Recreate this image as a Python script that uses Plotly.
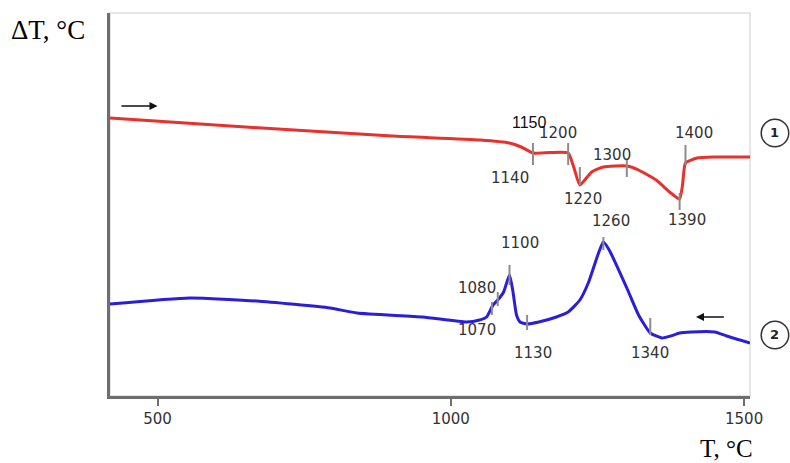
import numpy as np
import plotly.graph_objects as go

# ---- DTA curves: temperature (°C) vs ΔT (arbitrary units) ----
# Curve 1: heating
heat_T = [419, 650, 900, 1050, 1100, 1120, 1140, 1170, 1200, 1210, 1220, 1240,
          1260, 1300, 1320, 1350, 1375, 1390, 1395, 1400, 1420, 1450, 1510]
heat_dT = [27.8, 26.9, 26.0, 25.6, 25.3, 24.9, 24.3, 24.35, 24.3, 22.8, 21.1, 22.4,
           22.9, 23.0, 22.6, 21.6, 20.3, 19.7, 21.1, 23.3, 23.8, 23.9, 23.9]

# Curve 2: cooling
cool_T = [419, 555, 669, 794, 840, 952, 1027, 1049, 1061, 1070, 1075, 1080, 1090,
          1100, 1106, 1112, 1118, 1130, 1150, 1180, 1200, 1220, 1235, 1250, 1260,
          1270, 1300, 1320, 1340, 1360, 1375, 1390, 1410, 1450, 1470, 1510]
cool_dT = [9.2, 9.8, 9.5, 8.8, 8.3, 7.9, 7.4, 7.6, 7.9, 8.9, 9.3, 9.6, 10.4,
           12.1, 10.4, 8.1, 7.4, 7.2, 7.4, 7.9, 8.4, 9.6, 11.4, 14.0, 15.4,
           14.6, 10.8, 8.1, 6.3, 5.8, 6.0, 6.3, 6.4, 6.4, 6.0, 5.3]

# Characteristic temperatures marked on each curve
heat_marks = [1140, 1200, 1220, 1300, 1390, 1400]
cool_marks = [1070, 1080, 1100, 1130, 1260, 1340]

x_ticks = [500, 1000, 1500]

RED = "#e8302c"
BLUE = "#2a1ed8"
MARK = "#8c8c8c"
LABEL_FONT = dict(family="DejaVu Sans", size=15, color="#333333")

fig = go.Figure()

fig.add_trace(go.Scatter(x=heat_T, y=heat_dT, mode="lines",
                         line=dict(color=RED, width=3, shape="spline", smoothing=0.5),
                         hoverinfo="skip", showlegend=False))
fig.add_trace(go.Scatter(x=cool_T, y=cool_dT, mode="lines",
                         line=dict(color=BLUE, width=3, shape="spline", smoothing=0.5),
                         hoverinfo="skip", showlegend=False))

# short vertical strokes through the curve at each marked temperature
# (extent above / below the curve, in ΔT units)
heat_ext = [(1.0, 1.2), (1.0, 1.2), (1.8, 0.0), (0.6, 1.1), (0.6, 1.1), (1.8, 0.2)]
cool_ext = [(0.5, 0.8), (0.8, 0.6), (1.0, 1.0), (0.9, 0.6), (0.5, 0.8), (1.5, 0.2)]


def strokes(marks, T, dT, ext):
    xs, ys = [], []
    for t, (up, dn) in zip(marks, ext):
        yc = float(np.interp(t, T, dT))
        xs += [t, t, None]
        ys += [yc + up, yc - dn, None]
    return xs, ys


for marks, T, dT, ext in [(heat_marks, heat_T, heat_dT, heat_ext),
                          (cool_marks, cool_T, cool_dT, cool_ext)]:
    xs, ys = strokes(marks, T, dT, ext)
    fig.add_trace(go.Scatter(x=xs, y=ys, mode="lines",
                             line=dict(color=MARK, width=2),
                             hoverinfo="skip", showlegend=False))

# temperature labels: (value, pixel offset x, pixel offset y)
heat_labels = [(1140, -23, -25), (1200, -10, 20), (1220, 3, -14),
               (1300, -15, 11), (1390, 7, -21), (1400, 9, 30)]
cool_labels = [(1070, -15, -23), (1080, -21, 12), (1100, 11, 32),
               (1130, 6, -29), (1260, 8, 21), (1340, 0, -20)]

annotations = []
for labels, T, dT in [(heat_labels, heat_T, heat_dT), (cool_labels, cool_T, cool_dT)]:
    for t, dx, dy in labels:
        annotations.append(dict(x=t, y=float(np.interp(t, T, dT)), xref="x", yref="y",
                                text=str(t), showarrow=False, xshift=dx, yshift=dy,
                                xanchor="center", yanchor="middle", font=LABEL_FONT))

# the onset label written above the 1140 stroke
annotations.append(dict(x=1150, y=float(np.interp(1150, heat_T, heat_dT)),
                        xref="x", yref="y", text="1150", showarrow=False,
                        xshift=-9, yshift=30, xanchor="center", yanchor="middle",
                        font=dict(family="Liberation Sans", size=16, color="#111111")))

# direction arrows (heating → , cooling ←)
annotations.append(dict(x=500, y=29.0, ax=436, ay=29.0, xref="x", yref="y",
                        axref="x", ayref="y", text="", showarrow=True,
                        arrowhead=2, arrowsize=1, arrowwidth=1.6, arrowcolor="#111111"))
annotations.append(dict(x=1418, y=7.9, ax=1468, ay=7.9, xref="x", yref="y",
                        axref="x", ayref="y", text="", showarrow=True,
                        arrowhead=2, arrowsize=1, arrowwidth=1.6, arrowcolor="#111111"))

# curve numbers in circles
CIRCLE_X = 1.039
for num, yp in [("1", 0.6867), ("2", 0.1593)]:
    annotations.append(dict(x=CIRCLE_X, y=yp, xref="paper", yref="paper",
                            xanchor="center", yanchor="middle", text=f"<b>{num}</b>",
                            showarrow=False,
                            font=dict(family="DejaVu Sans", size=13, color="#222222")))

# axis titles
annotations.append(dict(x=-0.158, y=1.0, xref="paper", yref="paper", xanchor="left",
                        yanchor="middle", yshift=-17, text="ΔT, °C", showarrow=False,
                        font=dict(family="Liberation Serif", size=27, color="#000000")))
annotations.append(dict(x=0.963, y=0, xref="paper", yref="paper", xanchor="center",
                        yanchor="middle", yshift=-52, text="T, °C", showarrow=False,
                        font=dict(family="Liberation Serif", size=25, color="#000000")))

shapes = [
    dict(type="rect", xref="paper", yref="paper", x0=0, y0=0, x1=1, y1=1,
         line=dict(color="#dedede", width=1.5), layer="below"),
]
for yp in (0.6867, 0.1593):
    shapes.append(dict(type="circle", xref="paper", yref="paper",
                       x0=CIRCLE_X - 0.0215, x1=CIRCLE_X + 0.0215,
                       y0=yp - 0.036, y1=yp + 0.036,
                       line=dict(color="#333333", width=1.5)))

fig.update_layout(
    width=790, height=463,
    margin=dict(l=110, r=40, t=13, b=67),
    paper_bgcolor="white", plot_bgcolor="white",
    annotations=annotations, shapes=shapes,
    xaxis=dict(range=[419, 1510], tickvals=x_ticks, ticktext=[str(v) for v in x_ticks],
               showgrid=False, zeroline=False, showline=True, linecolor="#6e6e6e",
               linewidth=3, ticks="outside", ticklen=7, tickwidth=2, tickcolor="#6e6e6e",
               tickfont=dict(family="DejaVu Sans", size=15, color="#333333")),
    yaxis=dict(range=[0, 38.3], showgrid=False, zeroline=False, showline=True,
               linecolor="#6e6e6e", linewidth=3, showticklabels=False, ticks=""),
)

fig.write_html("out.html")
